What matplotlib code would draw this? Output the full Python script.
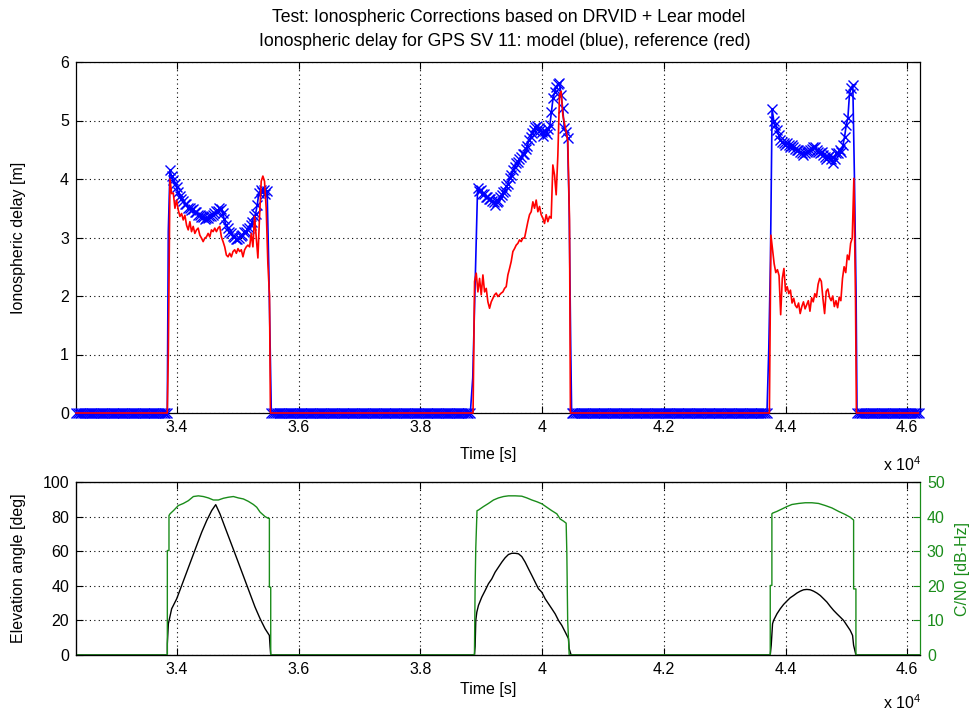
import numpy as np
import matplotlib
matplotlib.use("Agg")
import matplotlib.pyplot as plt
from matplotlib.ticker import FuncFormatter

# ---------------- data ----------------
t_first = 32340
t_last = 46210
zero_step = 30

# model (blue) ionospheric delay per pass [m]
blue_pass1 = [3.10, 4.15, 4.05, 3.99, 3.92, 3.86, 3.77, 3.71, 3.66, 3.63, 3.57,
              3.57, 3.51, 3.51, 3.47, 3.48, 3.43, 3.43, 3.39, 3.39, 3.35,
              3.35, 3.32, 3.34, 3.33, 3.37, 3.36, 3.39, 3.42, 3.45, 3.46,
              3.50, 3.49, 3.42, 3.31, 3.21, 3.16, 3.09, 3.07, 3.02, 3.01,
              2.98, 2.98, 2.99, 3.02, 3.04, 3.09, 3.09, 3.15, 3.17, 3.22,
              3.27, 3.36, 3.40, 3.56, 3.76, 3.81, 3.77, 3.81, 3.75, 3.79,
              2.50, 0.90]
blue_pass2 = [0.60, 1.70, 2.80, 3.84, 3.80, 3.82, 3.75, 3.74, 3.69, 3.69, 3.66,
              3.66, 3.63, 3.61, 3.56, 3.61, 3.63, 3.69, 3.72, 3.78, 3.80,
              3.88, 3.92, 4.01, 4.06, 4.15, 4.20, 4.27, 4.29, 4.35, 4.37,
              4.42, 4.43, 4.52, 4.57, 4.66, 4.71, 4.79, 4.83, 4.89, 4.91,
              4.88, 4.83, 4.81, 4.74, 4.82, 4.77, 4.86, 4.92, 5.15, 5.38,
              5.48, 5.58, 5.62, 5.64, 5.44, 5.21, 4.87, 4.81, 4.70, 3.55,
              1.15]
blue_pass3 = [1.10, 2.60, 5.20, 5.00, 4.92, 4.84, 4.75, 4.67, 4.64, 4.61, 4.58,
              4.61, 4.58, 4.55, 4.58, 4.55, 4.52, 4.50, 4.50, 4.47, 4.44,
              4.41, 4.44, 4.47, 4.48, 4.50, 4.51, 4.55, 4.54, 4.50, 4.47,
              4.44, 4.46, 4.41, 4.38, 4.35, 4.38, 4.41, 4.35, 4.27, 4.35,
              4.44, 4.44, 4.50, 4.47, 4.58, 4.72, 4.92, 5.04, 5.46, 5.55,
              5.61, 4.00, 2.00]
# leading / trailing transition samples of each blue pass (drawn without marker)
blue_edges = [(1, 2), (3, 2), (2, 2)]

# reference (red) ionospheric delay per pass [m]
red_pass1 = [1.00, 4.00, 3.75, 3.76, 3.50, 3.64, 3.47, 3.36, 3.41, 3.30, 3.38,
             3.21, 3.13, 3.27, 3.10, 3.19, 3.07, 3.13, 3.16, 3.04, 2.99,
             2.93, 2.99, 3.01, 3.07, 3.01, 3.13, 3.10, 3.16, 3.10, 3.16,
             3.19, 3.01, 2.93, 2.84, 2.70, 2.67, 2.73, 2.67, 2.76, 2.79,
             2.73, 2.81, 2.76, 2.79, 2.67, 2.79, 2.84, 2.87, 2.84, 3.07,
             2.84, 3.36, 3.01, 2.65, 3.36, 3.96, 4.05, 3.96, 3.50, 2.56,
             2.00]
red_pass2 = [2.25, 2.39, 2.07, 2.30, 2.02, 2.36, 2.07, 2.13, 1.90, 1.79, 1.90,
             1.96, 2.02, 2.05, 1.99, 2.02, 2.05, 2.07, 2.13, 2.16, 2.36,
             2.47, 2.59, 2.76, 2.81, 2.87, 2.90, 2.96, 2.93, 2.99, 2.99,
             3.13, 3.27, 3.39, 3.44, 3.61, 3.50, 3.64, 3.44, 3.53, 3.39,
             3.33, 3.24, 3.39, 3.27, 3.36, 3.33, 4.24, 4.07, 3.73, 4.40,
             5.44, 5.50, 5.09, 4.95, 4.81, 4.64, 3.30]
red_pass3 = [3.04, 2.80, 2.55, 2.40, 2.45, 2.35, 1.68, 2.30, 2.47, 2.08, 2.16,
             2.04, 2.10, 1.88, 1.96, 1.84, 1.80, 1.88, 1.70, 1.82, 1.90,
             1.78, 1.85, 1.92, 1.74, 1.97, 1.90, 2.04, 1.98, 2.20, 2.30,
             2.25, 1.95, 1.70, 2.08, 2.12, 1.98, 1.92, 2.00, 1.82, 1.92,
             1.80, 1.98, 1.92, 2.30, 2.50, 2.40, 2.70, 2.62, 2.90, 2.99,
             4.01, 1.95]

# time span [s] covered by each pass list
blue_spans = [(33857, 35535), (38860, 40470), (43725, 45160)]
red_spans = [(33857, 35520), (38890, 40450), (43760, 45150)]

# elevation angle [deg]
elev_t = [32340, 33841, 33841, 33858, 33912, 33995, 34077, 34159, 34241, 34323,
          34406, 34488, 34570, 34636, 34707, 34789, 34871, 34954, 35036, 35118,
          35200, 35282, 35365, 35447, 35518, 35529, 35540,
          38888, 38899, 38910, 38927, 38954, 39009, 39064, 39118, 39173, 39228,
          39283, 39338, 39392, 39447, 39502, 39557, 39612, 39666, 39721, 39776,
          39831, 39886, 39940, 39995, 40050, 40105, 40160, 40214, 40269, 40324,
          40379, 40434, 40444, 40477,
          43749, 43765, 43787, 43804, 43859, 43913, 43968, 44023, 44078, 44133,
          44187, 44242, 44297, 44352, 44406, 44461, 44516, 44571, 44626, 44680,
          44735, 44790, 44845, 44900, 44954, 45009, 45064, 45102, 45119, 45157,
          46210]
elev_v = [0, 0, 6.5, 18.1, 26.7, 32.5, 40.2, 47.9, 55.6, 63.3,
          71.0, 77.7, 83.5, 86.9, 81.5, 73.8, 66.2, 58.5, 50.8, 43.1,
          35.4, 27.7, 21.0, 15.2, 11.3, 5.0, 0,
          0, 5.0, 20.0, 24.8, 28.7, 33.5, 37.3, 41.2, 44.0, 47.9,
          50.8, 53.7, 56.2, 58.1, 58.8, 58.8, 58.5, 56.9, 53.7, 49.8,
          46.0, 42.1, 38.3, 36.3, 32.5, 29.6, 26.7, 23.8, 20.0, 17.1,
          13.3, 9.4, 3.7, 0,
          0, 5.6, 18.1, 20.0, 23.8, 26.7, 29.2, 31.2, 33.1, 34.4,
          35.8, 36.9, 37.7, 37.9, 37.7, 36.9, 35.8, 34.4, 32.5, 30.6,
          28.1, 25.8, 23.8, 21.9, 20.0, 17.1, 14.2, 11.3, 5.6, 0,
          0]

# C/N0 [dB-Hz]
cn0_t = [32340, 33841, 33841, 33868, 33868, 33885, 33940, 34022, 34104, 34186,
         34269, 34351, 34433, 34515, 34597, 34680, 34762, 34844, 34926, 35008,
         35091, 35173, 35255, 35310, 35365, 35447, 35501, 35518, 35518, 35540,
         35540,
         38888, 38899, 38910, 38930, 38954, 39036, 39118, 39201, 39283, 39365,
         39447, 39557, 39666, 39749, 39831, 39913, 39995, 40077, 40160, 40242,
         40297, 40351, 40395, 40406, 40420, 40445,
         43749, 43749, 43776, 43776, 43787, 43858, 43941, 44023, 44105, 44215,
         44324, 44434, 44543, 44653, 44763, 44872, 44982, 45064, 45119, 45119,
         45157, 45157, 46210]
cn0_v = [0, 0, 30.2, 30.2, 40.3, 40.8, 41.7, 43.2, 43.8, 44.6,
         45.8, 46.0, 45.8, 45.4, 44.8, 44.8, 45.3, 45.6, 45.8, 45.4,
         45.1, 44.4, 43.5, 42.7, 41.3, 40.0, 39.5, 39.5, 19.6, 19.6,
         0,
         0, 20.0, 31.0, 41.7, 41.9, 42.9, 43.8, 44.8, 45.4, 45.8,
         46.0, 46.0, 45.9, 45.4, 44.8, 44.3, 43.7, 42.7, 41.7, 40.8,
         39.3, 38.7, 38.1, 29.7, 10.0, 0,
         0, 20.1, 20.1, 40.8, 41.0, 41.5, 42.2, 42.9, 43.5, 43.8,
         44.0, 44.0, 43.8, 43.2, 42.5, 41.5, 40.6, 39.8, 39.0, 19.1,
         19.1, 0, 0]

x_ticks = [34000, 36000, 38000, 40000, 42000, 44000, 46000]
green = "#1a8c1a"


def build_series(spans, passes, edges=None):
    """Zero level between passes, pass values in between.
    Returns times, values and the indices that carry a marker."""
    ts, vs, marked = [], [], []
    n = 0
    prev = t_first
    for k, ((a, b), vals) in enumerate(zip(spans, passes)):
        z = np.arange(prev, a - zero_step / 2, zero_step)
        ts.append(z)
        vs.append(np.zeros(len(z)))
        marked.extend(range(n, n + len(z)))
        n += len(z)
        ts.append(np.linspace(a, b, len(vals)))
        vs.append(np.array(vals, dtype=float))
        lead, trail = edges[k] if edges else (0, 0)
        marked.extend(range(n + lead, n + len(vals) - trail))
        n += len(vals)
        prev = b + zero_step / 2
    z = np.arange(prev, t_last + 1, zero_step)
    ts.append(z)
    vs.append(np.zeros(len(z)))
    marked.extend(range(n, n + len(z)))
    return np.concatenate(ts), np.concatenate(vs), marked


def style_time_axis(a):
    a.set_xlim(t_first, t_last)
    a.set_xticks(x_ticks)
    a.xaxis.set_major_formatter(FuncFormatter(lambda v, p: f"{v / 1e4:g}"))
    a.grid(True, color="k", linestyle=(0, (1, 3)), linewidth=0.8)
    for s in a.spines.values():
        s.set_linewidth(0.9)


plt.rcParams["font.family"] = ["Liberation Sans", "DejaVu Sans"]
plt.rcParams["font.size"] = 11.5
plt.rcParams["mathtext.fontset"] = "custom"
plt.rcParams["mathtext.rm"] = "Liberation Sans"
plt.rcParams["mathtext.default"] = "regular"

fig = plt.figure(figsize=(9.76, 7.13), dpi=100)
ax = fig.add_axes([76 / 976, 1 - 413 / 713, 844 / 976, 351 / 713])
axb = fig.add_axes([76 / 976, 1 - 655 / 713, 844 / 976, 173 / 713])
axr = axb.twinx()

# ---------------- top: ionospheric delay ----------------
tb, vb, mk = build_series(blue_spans, [blue_pass1, blue_pass2, blue_pass3],
                          blue_edges)
tr, vr, _ = build_series(red_spans, [red_pass1, red_pass2, red_pass3])
ax.plot(tb, vb, color="blue", lw=1.2, marker="x", ms=7, mew=1.0,
        markevery=mk, clip_on=False, zorder=3)
ax.plot(tr, vr, color="red", lw=1.2, clip_on=False, zorder=4)
style_time_axis(ax)
ax.set_ylim(0, 6)
ax.set_yticks(range(0, 7))
ax.tick_params(direction="in", length=5, top=True, right=True, pad=5)
ax.set_xlabel("Time [s]")
ax.xaxis.set_label_coords(0.488, -0.097)
ax.set_ylabel("Ionospheric delay [m]")
ax.yaxis.set_label_coords(-0.059, 0.5)
ax.text(0.956, -0.148, r"x 10$^{4}$", transform=ax.transAxes,
        ha="left", va="center")

fig.text(509 / 976, 1 - 17 / 713,
         "Test: Ionospheric Corrections based on DRVID + Lear model",
         ha="center", va="center", fontsize=12.7)
fig.text(505 / 976, 1 - 42 / 713,
         "Ionospheric delay for GPS SV 11: model (blue), reference (red)",
         ha="center", va="center", fontsize=12.7)

# ---------------- bottom: elevation and C/N0 ----------------
axb.plot(elev_t, elev_v, color="black", lw=1.0)
style_time_axis(axb)
axb.set_ylim(0, 100)
axb.set_yticks(range(0, 101, 20))
axb.tick_params(direction="in", length=5, top=True, pad=5)
axb.spines["right"].set_visible(False)
axb.set_xlabel("Time [s]")
axb.xaxis.set_label_coords(0.488, -0.156)
axb.set_ylabel("Elevation angle [deg]")
axb.yaxis.set_label_coords(-0.059, 0.5)
axb.text(0.956, -0.277, r"x 10$^{4}$", transform=axb.transAxes,
         ha="left", va="center")

axr.plot(cn0_t, cn0_v, color=green, lw=1.0)
axr.set_xlim(t_first, t_last)
axr.set_ylim(0, 50)
axr.set_yticks(range(0, 51, 10))
axr.tick_params(direction="in", length=5, colors=green, pad=5)
axr.spines["right"].set_color(green)
axr.spines["right"].set_linewidth(0.9)
axr.set_ylabel("C/N0 [dB-Hz]", color=green)
axr.yaxis.set_label_coords(1.0415, 0.5)

fig.savefig("out.png", dpi=100)
